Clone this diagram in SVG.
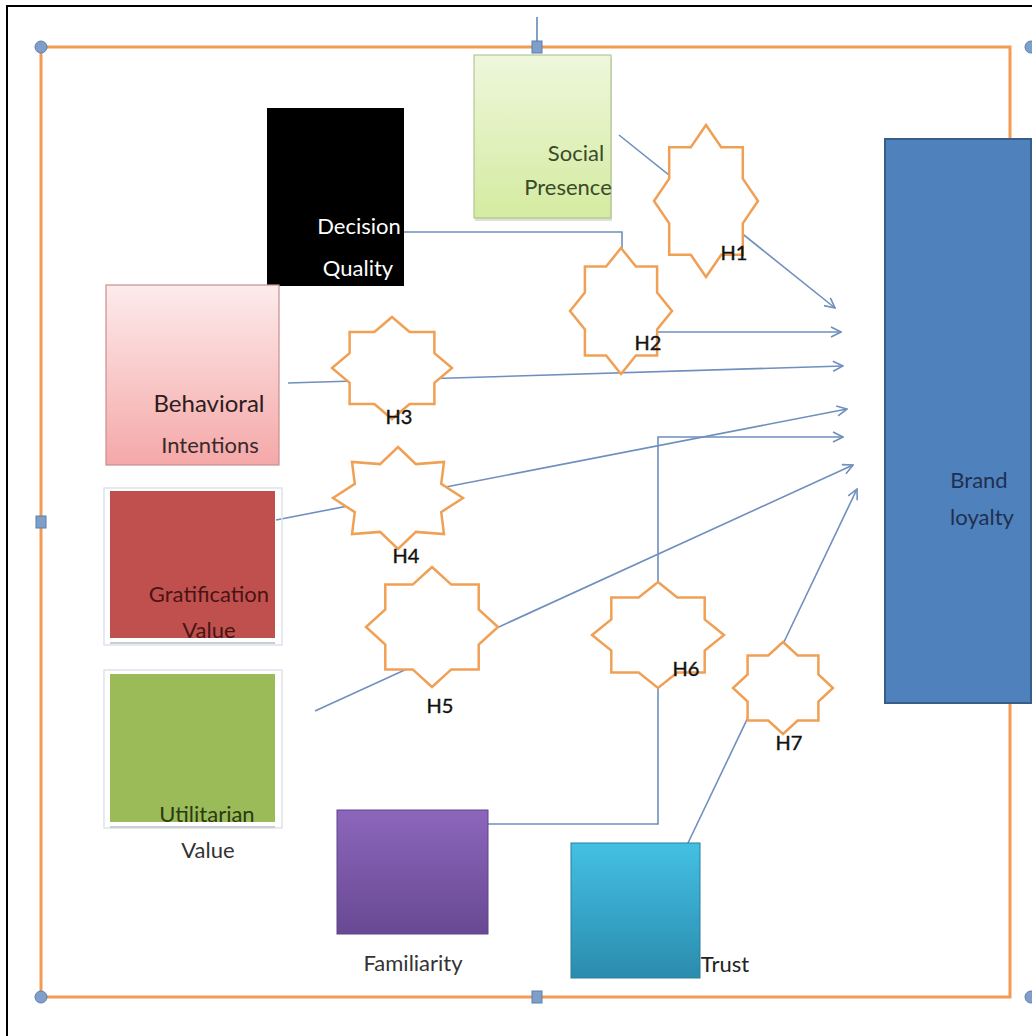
<svg xmlns="http://www.w3.org/2000/svg" width="1032" height="1036" viewBox="0 0 1032 1036">
<style>
.lbl{font-family:Lato,"Open Sans","Liberation Sans",sans-serif;font-size:22px;text-anchor:middle}
.big{font-size:24px}
.h{font-family:Lato,"Open Sans","Liberation Sans",sans-serif;font-size:20px;text-anchor:middle;fill:#111;stroke:#111;stroke-width:0.4}
.star{fill:#fff;stroke:#F0A055;stroke-width:2.5;stroke-linejoin:miter}
.conn{fill:none;stroke:#6F8FBD;stroke-width:1.6}
.handle{fill:#7F9FC8;stroke:#5A7FAF;stroke-width:1}
</style>
<defs>
<linearGradient id="gSocial" x1="0" y1="0" x2="0" y2="1"><stop offset="0" stop-color="#EEF7DC"/><stop offset="1" stop-color="#D4EBA0"/></linearGradient>
<linearGradient id="gBehav" x1="0" y1="0" x2="0" y2="1"><stop offset="0" stop-color="#FDEBEB"/><stop offset="1" stop-color="#F5A8A8"/></linearGradient>
<linearGradient id="gFam" x1="0" y1="0" x2="0" y2="1"><stop offset="0" stop-color="#8C66BB"/><stop offset="1" stop-color="#684993"/></linearGradient>
<linearGradient id="gTrust" x1="0" y1="0" x2="0" y2="1"><stop offset="0" stop-color="#43C0E3"/><stop offset="1" stop-color="#2A8CAE"/></linearGradient>
<marker id="arr" viewBox="0 0 12 12" refX="11" refY="6" markerWidth="12" markerHeight="12" markerUnits="userSpaceOnUse" orient="auto">
<path d="M1,1 L11,6 L1,11" fill="none" stroke="#6F8FBD" stroke-width="1.6"/>
</marker>
</defs>
<rect width="1032" height="1036" fill="#fff"/>
<rect x="7" y="6" width="1040" height="1040" fill="none" stroke="#000" stroke-width="2"/>

<g id="frame">
<line x1="537" y1="17" x2="537" y2="47" stroke="#5A7FAF" stroke-width="1.5"/>
<rect x="41" y="47" width="969" height="950" fill="none" stroke="#F29B52" stroke-width="3"/>
<circle class="handle" cx="41" cy="47" r="6"/>
<circle class="handle" cx="1031" cy="47" r="6"/>
<circle class="handle" cx="41" cy="997" r="6"/>
<circle class="handle" cx="1031" cy="997" r="6"/>
<rect class="handle" x="532" y="41" width="10" height="12"/>
<rect class="handle" x="532" y="991" width="10" height="12"/>
<rect class="handle" x="36" y="516" width="10" height="12"/>
</g>

<g id="connectors">
<path class="conn" d="M619,135 L835,308" marker-end="url(#arr)"/>
<path class="conn" d="M404,232 H622 V332 H841" stroke="#8AA2C6" marker-end="url(#arr)"/>
<path class="conn" d="M288,383 L843,366" stroke="#8AA2C6" marker-end="url(#arr)"/>
<path class="conn" d="M276,520 L847,409" marker-end="url(#arr)"/>
<path class="conn" d="M315,711 L853,465" marker-end="url(#arr)"/>
<path class="conn" d="M488,824 H658 V437 H843" stroke="#5E86BE" marker-end="url(#arr)"/>
<path class="conn" d="M688,843 L857,489" marker-end="url(#arr)"/>
</g>

<g id="social-presence">
<rect x="475" y="58" width="137" height="163" fill="#B8C4A8" opacity="0.5"/>
<rect x="474" y="55" width="137" height="163" fill="url(#gSocial)" stroke="#A9BC86" stroke-width="1"/>
<text class="lbl" x="576" y="161" fill="#3A4A2A">Social</text>
<text class="lbl" x="568" y="195" fill="#3A4A2A">Presence</text>
</g>

<g id="decision-quality">
<rect x="267" y="108" width="137" height="178" fill="#000"/>
<text class="lbl" x="359" y="234" fill="#fff">Decision</text>
<text class="lbl" x="358" y="276" fill="#fff">Quality</text>
</g>

<g id="behavioral-intentions">
<rect x="106" y="285" width="173" height="180" fill="url(#gBehav)" stroke="#C98E8E" stroke-width="1.2"/>
<text class="lbl big" x="209" y="412" fill="#2E1C1C">Behavioral</text>
<text class="lbl" x="210" y="453" fill="#3A2A2A">Intentions</text>
</g>

<g id="gratification-value">
<rect x="104" y="488" width="178" height="157" fill="none" stroke="#DDE2EC" stroke-width="1.5"/>
<rect x="110" y="491" width="165" height="147" fill="#C0504D"/>
<line x1="110" y1="643" x2="275" y2="643" stroke="#C9CDD6" stroke-width="2"/>
<text class="lbl" x="209" y="602" fill="#4A1414">Gratification</text>
<text class="lbl" x="209" y="638" fill="#4A1414">Value</text>
</g>

<g id="utilitarian-value">
<rect x="104" y="670" width="178" height="158" fill="none" stroke="#DDE2EC" stroke-width="1.5"/>
<rect x="110" y="674" width="165" height="148" fill="#9BBB59"/>
<line x1="110" y1="827" x2="275" y2="827" stroke="#C9CDD6" stroke-width="2"/>
<text class="lbl" x="207" y="822" fill="#2A3A12">Utilitarian</text>
<text class="lbl" x="208" y="858" fill="#333">Value</text>
</g>

<g id="familiarity">
<rect x="337" y="810" width="151" height="124" fill="url(#gFam)" stroke="#5E4488" stroke-width="1"/>
<text class="lbl" x="413" y="971" fill="#333">Familiarity</text>
</g>

<g id="trust">
<rect x="571" y="843" width="129" height="135" fill="url(#gTrust)" stroke="#2A7E9E" stroke-width="1"/>
<text class="lbl" x="725" y="972" fill="#222">Trust</text>
</g>

<g id="brand-loyalty">
<rect x="885" y="139" width="146" height="564" fill="#4F81BD" stroke="#385D8A" stroke-width="2"/>
<text class="lbl" x="979" y="488" fill="#1F2F4F">Brand</text>
<text class="lbl" x="982" y="525" fill="#1F2F4F">loyalty</text>
</g>

<g id="h1">
<polygon class="star" points="706,125 721.2,147.3 742.8,147.3 742.8,178.7 758,201 742.8,223.3 742.8,254.7 721.2,254.7 706,277 690.8,254.7 669.2,254.7 669.2,223.3 654,201 669.2,178.7 669.2,147.3 690.8,147.3"/>
<text class="h" x="734" y="260">H1</text>
</g>
<g id="h2">
<polygon class="star" points="621,248 635.9,266.5 657.1,266.5 657.1,292.5 672,311 657.1,329.5 657.1,355.5 635.9,355.5 621,374 606.1,355.5 584.9,355.5 584.9,329.5 570,311 584.9,292.5 584.9,266.5 606.1,266.5"/>
<text class="h" x="648" y="350">H2</text>
</g>
<g id="h3">
<polygon class="star" points="392,317 409.6,331.9 434.4,331.9 434.4,353.1 452,368 434.4,382.9 434.4,404.1 409.6,404.1 392,419 374.4,404.1 349.6,404.1 349.6,382.9 332,368 349.6,353.1 349.6,331.9 374.4,331.9"/>
<text class="h" x="399" y="424">H3</text>
</g>
<g id="h4">
<polygon class="star" points="398,447 415.9,464.1 444,461.9 441.2,483.9 463,498 441.2,512.1 444,534.1 415.9,531.9 398,549 380.1,531.9 352,534.1 354.8,512.1 333,498 354.8,483.9 352,461.9 380.1,464.1"/>
<text class="h" x="406" y="563">H4</text>
</g>
<g id="h5">
<polygon class="star" points="432,567 451.3,584.6 478.7,584.6 478.7,609.4 498,627 478.7,644.6 478.7,669.4 451.3,669.4 432,687 412.7,669.4 385.3,669.4 385.3,644.6 366,627 385.3,609.4 385.3,584.6 412.7,584.6"/>
<text class="h" x="440" y="713">H5</text>
</g>
<g id="h6">
<polygon class="star" points="658,582 677.3,597.5 704.7,597.5 704.7,619.5 724,635 704.7,650.5 704.7,672.5 677.3,672.5 658,688 638.7,672.5 611.3,672.5 611.3,650.5 592,635 611.3,619.5 611.3,597.5 638.7,597.5"/>
<text class="h" x="686" y="676">H6</text>
</g>
<g id="h7">
<polygon class="star" points="783,642 797.7,655.5 818.4,655.5 818.4,674.5 833,688 818.4,701.5 818.4,720.5 797.7,720.5 783,734 768.3,720.5 747.6,720.5 747.6,701.5 733,688 747.6,674.5 747.6,655.5 768.3,655.5"/>
<text class="h" x="789" y="750">H7</text>
</g>
</svg>
